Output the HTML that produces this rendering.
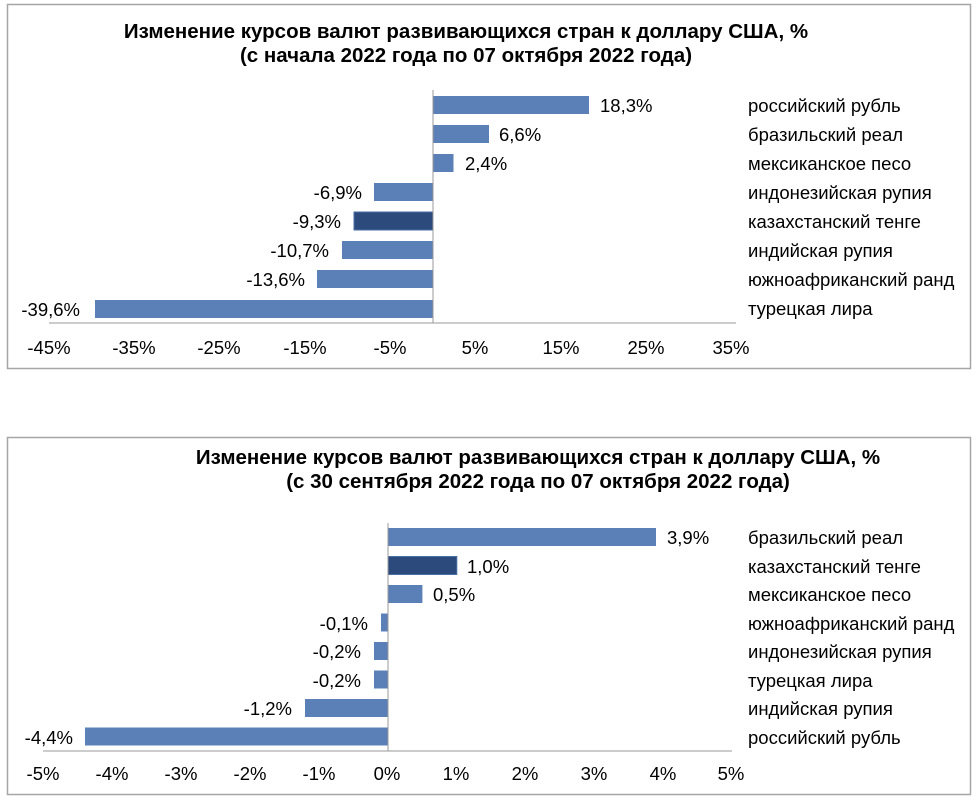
<!DOCTYPE html>
<html><head><meta charset="utf-8"><style>
html,body{margin:0;padding:0;background:#fff;}
svg{display:block;}
text{font-family:"Liberation Sans",Arial,sans-serif;fill:#000;}
.t{font-weight:bold;font-size:20.5px;}
.v{font-size:18.5px;}
</style></head><body>
<svg width="976" height="800" viewBox="0 0 976 800" xmlns="http://www.w3.org/2000/svg">
<!-- Chart 1 -->
<rect x="7.5" y="4.5" width="963" height="364" fill="#fff" stroke="#a6a6a6" stroke-width="1.5"/>
<text class="t" x="466" y="38" text-anchor="middle">Изменение курсов валют развивающихся стран к доллару США, %</text>
<text class="t" x="466" y="62" text-anchor="middle">(с начала 2022 года по 07 октября 2022 года)</text>
<g fill="#5b80b8">
<rect x="433" y="96" width="156" height="18"/>
<rect x="433" y="125" width="56" height="18"/>
<rect x="433" y="154" width="20.5" height="18"/>
<rect x="374" y="183" width="59" height="18"/>
<rect x="354" y="212" width="79" height="18" fill="#2c4a7c" stroke="#4a6fa5"/>
<rect x="342" y="241" width="91" height="18"/>
<rect x="317" y="270" width="116" height="18"/>
<rect x="95" y="300" width="338" height="18"/>
</g>
<line x1="433" y1="90" x2="433" y2="323" stroke="#999" stroke-width="1"/>
<line x1="49" y1="323" x2="736" y2="323" stroke="#999" stroke-width="1"/>
<g class="v">
<text x="600" y="112">18,3%</text>
<text x="499" y="141">6,6%</text>
<text x="465" y="170">2,4%</text>
<text x="362" y="199" text-anchor="end">-6,9%</text>
<text x="341" y="228" text-anchor="end">-9,3%</text>
<text x="329" y="257" text-anchor="end">-10,7%</text>
<text x="305" y="286" text-anchor="end">-13,6%</text>
<text x="80" y="316" text-anchor="end">-39,6%</text>
</g>
<g class="v">
<text x="748" y="112">российский рубль</text>
<text x="748" y="141">бразильский реал</text>
<text x="748" y="170">мексиканское песо</text>
<text x="748" y="199">индонезийская рупия</text>
<text x="748" y="228">казахстанский тенге</text>
<text x="748" y="257">индийская рупия</text>
<text x="748" y="286">южноафриканский ранд</text>
<text x="748" y="315">турецкая лира</text>
</g>
<g class="v" text-anchor="middle">
<text x="49" y="354">-45%</text>
<text x="134" y="354">-35%</text>
<text x="219" y="354">-25%</text>
<text x="305" y="354">-15%</text>
<text x="390" y="354">-5%</text>
<text x="475" y="354">5%</text>
<text x="561" y="354">15%</text>
<text x="646" y="354">25%</text>
<text x="731" y="354">35%</text>
</g>
<!-- Chart 2 -->
<rect x="7.5" y="437.5" width="963" height="357" fill="#fff" stroke="#a6a6a6" stroke-width="1.5"/>
<text class="t" x="538" y="464" text-anchor="middle">Изменение курсов валют развивающихся стран к доллару США, %</text>
<text class="t" x="538" y="488" text-anchor="middle">(с 30 сентября 2022 года по 07 октября 2022 года)</text>
<g fill="#5b80b8">
<rect x="388" y="528" width="268" height="18"/>
<rect x="388" y="556.5" width="68.8" height="18" fill="#2c4a7c" stroke="#4a6fa5"/>
<rect x="388" y="585" width="34.4" height="18"/>
<rect x="381" y="613.5" width="7" height="18"/>
<rect x="374" y="642" width="14" height="18"/>
<rect x="374" y="670.5" width="14" height="18"/>
<rect x="305" y="699" width="83" height="18"/>
<rect x="85" y="727.5" width="303" height="18"/>
</g>
<line x1="388" y1="523" x2="388" y2="751" stroke="#999" stroke-width="1"/>
<line x1="43" y1="751" x2="732" y2="751" stroke="#999" stroke-width="1"/>
<g class="v">
<text x="667" y="544">3,9%</text>
<text x="467" y="573">1,0%</text>
<text x="433" y="601">0,5%</text>
<text x="368" y="630" text-anchor="end">-0,1%</text>
<text x="361" y="658" text-anchor="end">-0,2%</text>
<text x="361" y="687" text-anchor="end">-0,2%</text>
<text x="292" y="715" text-anchor="end">-1,2%</text>
<text x="73" y="744" text-anchor="end">-4,4%</text>
</g>
<g class="v">
<text x="748" y="544">бразильский реал</text>
<text x="748" y="573">казахстанский тенге</text>
<text x="748" y="601">мексиканское песо</text>
<text x="748" y="630">южноафриканский ранд</text>
<text x="748" y="658">индонезийская рупия</text>
<text x="748" y="687">турецкая лира</text>
<text x="748" y="715">индийская рупия</text>
<text x="748" y="744">российский рубль</text>
</g>
<g class="v" text-anchor="middle">
<text x="43" y="780">-5%</text>
<text x="112" y="780">-4%</text>
<text x="181" y="780">-3%</text>
<text x="250" y="780">-2%</text>
<text x="319" y="780">-1%</text>
<text x="387" y="780">0%</text>
<text x="456" y="780">1%</text>
<text x="525" y="780">2%</text>
<text x="594" y="780">3%</text>
<text x="663" y="780">4%</text>
<text x="731" y="780">5%</text>
</g>
</svg>
</body></html>
